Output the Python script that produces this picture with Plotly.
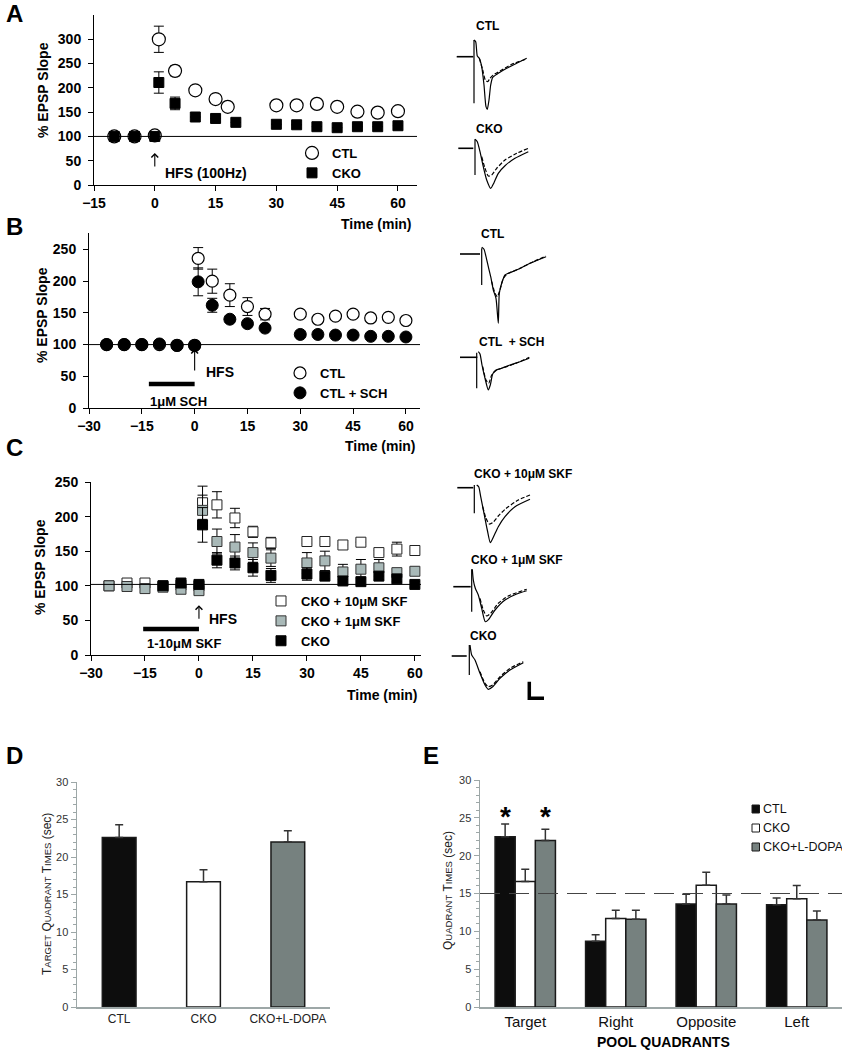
import plotly.graph_objects as go

W, H = 842, 1050
FONT = "Arial, Liberation Sans, sans-serif"


def fx(p):
    return p / W


def fy(p):
    return 1 - p / H


# ---------------- Panel A data ----------------
a_time_ctl = [-10, -5, 0, 1, 5, 10, 15, 18, 30, 35, 40, 45, 50, 55, 60]
a_ctl = [100, 100, 102, 300, 235, 195, 177, 161, 164, 164, 167, 161, 151, 149, 152]
a_ctl_err = [0, 0, 0, 27, 10, 0, 0, 0, 0, 0, 8, 0, 0, 0, 0]
a_time_cko = [-10, -5, 0, 1, 5, 10, 15, 20, 30, 35, 40, 45, 50, 55, 60]
a_cko = [100, 100, 100, 211, 168, 140, 137, 129, 125, 124, 120, 118, 120, 120, 122]
a_cko_err = [0, 0, 0, 22, 13, 0, 0, 0, 0, 0, 0, 0, 0, 0, 0]
a_xticks = [-15, 0, 15, 30, 45, 60]
a_yticks = [0, 50, 100, 150, 200, 250, 300]

# ---------------- Panel B data ----------------
b_time = [-25, -20, -15, -10, -5, 0, 1, 5, 10, 15, 20, 30, 35, 40, 45, 50, 55, 60]
b_ctl = [100, 100, 100, 100, 99, 99, 236, 200, 178, 160, 148, 148, 140, 145, 148, 142, 143, 138]
b_ctl_err = [0, 0, 0, 0, 0, 0, 17, 19, 18, 14, 9, 0, 0, 0, 0, 0, 0, 0]
b_sch = [100, 100, 100, 101, 98.5, 98.5, 199, 162, 140, 133, 126, 116, 116, 115, 115, 113, 113, 112]
b_sch_err = [0, 0, 0, 0, 0, 0, 22, 11, 5, 0, 0, 0, 0, 0, 0, 0, 0, 0]
b_xticks = [-30, -15, 0, 15, 30, 45, 60]
b_yticks = [0, 50, 100, 150, 200, 250]

# ---------------- Panel C data ----------------
c_time = [-25, -20, -15, -10, -5, 0, 1, 5, 10, 15, 20, 30, 35, 40, 45, 50, 55, 60]
c_skf10 = [100, 104, 104, 100, 101, 100, 220, 217, 198, 178, 162, 164, 164, 159, 163, 148, 153, 151]
c_skf10_err = [0, 0, 0, 0, 0, 0, 24, 19, 14, 8, 8, 3, 4, 0, 0, 3, 10, 7]
c_skf1 = [100, 99, 96, 98, 95, 93, 209, 164, 156, 148, 140, 133, 136, 120, 124, 126, 119, 121]
c_skf1_err = [0, 0, 0, 0, 0, 0, 22, 18, 18, 14, 12, 15, 14, 11, 14, 12, 5, 6]
c_time_cko = [-10, -5, 0, 1, 5, 10, 15, 20, 30, 35, 40, 45, 50, 55, 60]
c_cko = [100, 104, 102, 188, 137, 133, 126, 115, 117, 114, 107, 106, 114, 110, 102]
c_cko_err = [0, 0, 0, 25, 11, 10, 12, 10, 9, 4, 5, 5, 5, 4, 4]
c_xticks = [-30, -15, 0, 15, 30, 45, 60]
c_yticks = [0, 50, 100, 150, 200, 250]

# ---------------- Panel D data ----------------
d_groups = ["CTL", "CKO", "CKO+L-DOPA"]
d_values = [22.6, 16.7, 22.0]
d_err = [1.7, 1.6, 1.5]
d_colors = ["#0d0d0d", "#ffffff", "#76817f"]

# ---------------- Panel E data ----------------
e_quadrants = ["Target", "Right", "Opposite", "Left"]
e_ctl = [22.5, 8.7, 13.6, 13.5]
e_ctl_err = [1.7, 0.85, 1.3, 0.9]
e_cko = [16.6, 11.7, 16.1, 14.3]
e_cko_err = [1.6, 1.1, 1.7, 1.75]
e_ldopa = [22.0, 11.6, 13.6, 11.5]
e_ldopa_err = [1.5, 1.2, 1.2, 1.2]
e_chance = 15

# ---------------- Example EPSP traces (drawn in pixel space) ----------------
traces_right = {
    "A_CTL": dict(
        base=([456.7, 473.3], [56.7, 56.7]), art=([474, 474], [40, 103.3]),
        solid=([474, 475.7, 477.3, 479.3, 481.7, 484, 486, 487.3, 489, 490.7, 492.7, 498.3, 506.7, 516.7, 526.7],
               [40, 41.7, 56, 58.3, 66.7, 85, 106.7, 109.3, 100, 85, 77.3, 73.3, 68.3, 63.3, 58.3]),
        dash=([479.3, 482.7, 485.3, 487.7, 490, 493.3, 501.7, 511.7, 526.7],
              [58.3, 70, 80, 81.7, 78.3, 75, 70, 64.3, 59])),
    "A_CKO": dict(
        base=([458.3, 473.3], [148.3, 148.3]), art=([475, 475], [139.3, 175]),
        solid=([475, 477.3, 480, 483.3, 486.7, 490.7, 494, 498.3, 505, 515, 528.3],
               [139.3, 141.7, 151.7, 166.7, 180, 188.3, 182.7, 173.3, 165.7, 158.3, 151.7]),
        dash=([481.7, 485, 488.3, 491.7, 496.7, 505, 516.7, 528.3],
              [156.7, 168.3, 176, 175, 168.3, 160, 153.3, 148.3])),
    "B_CTL": dict(
        base=([460, 480], [254, 254]), art=([481.7, 481.7], [248.3, 285]),
        solid=([481.7, 484, 486, 488.3, 490.7, 493.3, 496, 498.3, 499.3, 501.7, 505, 508.3, 516.7, 530, 546],
               [247.3, 249.3, 256.7, 266.7, 276.7, 290, 298.3, 323.3, 293.3, 283.3, 275, 273.3, 270, 263.3, 256.7]),
        dash=([491.7, 495, 497.3, 500, 503.3, 507.3, 520, 533.3, 546],
              [281.7, 293.3, 296.7, 290, 278.3, 274, 268.3, 261.7, 256])),
    "B_SCH": dict(
        base=([460, 477.3], [357.3, 357.3]), art=([476.7, 476.7], [352.7, 388.3]),
        solid=([478.3, 480, 482, 485, 488.3, 490.3, 492.7, 496, 501.7, 510, 520, 529.3],
               [351.7, 354, 365, 378.3, 390, 385, 374, 370, 368.3, 365, 361.7, 358.3]),
        dash=([482.7, 486, 488.7, 491.7, 496.7, 506.7, 518.3, 529.3],
              [366.7, 380, 383.3, 375, 370, 366.7, 362.3, 357.3])),
    "C_10": dict(
        base=([457.3, 473.3], [487.7, 487.7]), art=([474.3, 474.3], [485, 513.3]),
        solid=([476.7, 478.7, 480.7, 484, 487.3, 490.3, 493.3, 498.3, 505, 515, 530],
               [485, 486.7, 496.7, 513.3, 530, 542.7, 537.3, 526.7, 516.7, 506.7, 499.3]),
        dash=([482.7, 486, 489.3, 492.7, 498.3, 505, 508.3, 518.3, 530],
              [506.7, 518.3, 524, 522.7, 516, 509.3, 506.7, 500, 495])),
    "C_1": dict(
        base=([453.3, 470.7], [586.7, 586.7]), art=([471.7, 471.7], [569.3, 611.7]),
        solid=([472.3, 473.3, 475.3, 478.3, 481.7, 485.3, 488.7, 495, 505, 516.7, 526.7],
               [569.3, 580, 588.3, 595, 608.3, 621.7, 619.3, 610, 600, 594, 590.7]),
        dash=([480, 483.3, 486.7, 490.7, 498.3, 508.3, 526.7],
              [598.3, 610, 616, 613.3, 603.3, 596, 589.3])),
    "C_CKO": dict(
        base=([451.7, 466.7], [656, 656]), art=([469.3, 469.3], [645, 675]),
        solid=([470, 471.7, 475, 480, 485, 488.3, 492.7, 500, 510, 523.3],
               [645, 655, 660, 673.3, 685, 689.3, 686.7, 678.3, 670, 662.7]),
        dash=([480, 485, 488.3, 492.7, 500, 510, 523.3],
              [671.7, 683.3, 686.7, 685, 676.7, 668.3, 661.7])),
}
scale_bar = ([529.3, 529.3, 544], [681.7, 698.3, 698.3])
trace_labels = [("CTL", 474, 26), ("CKO", 474, 129), ("CTL", 479, 234), ("CTL  + SCH", 477, 342),
                ("CKO + 10μM SKF", 472, 474), ("CKO + 1μM SKF", 469, 560), ("CKO", 468, 636)]

fig = go.Figure()

err_style = dict(type="data", color="black", thickness=1, width=5)

# Panel A
fig.add_trace(go.Scatter(x=a_time_ctl, y=a_ctl, mode="markers", name="CTL",
                         marker=dict(symbol="circle", size=13, color="white", line=dict(color="black", width=1.2)),
                         error_y=dict(array=a_ctl_err, **err_style), xaxis="x", yaxis="y", legend="legend"))
fig.add_trace(go.Scatter(x=a_time_cko, y=a_cko, mode="markers", name="CKO",
                         marker=dict(symbol="square", size=10, color="black", line=dict(color="black", width=1)),
                         error_y=dict(array=a_cko_err, **err_style), xaxis="x", yaxis="y", legend="legend"))
# Panel B
fig.add_trace(go.Scatter(x=b_time, y=b_ctl, mode="markers", name="CTL",
                         marker=dict(symbol="circle", size=12, color="white", line=dict(color="black", width=1.2)),
                         error_y=dict(array=b_ctl_err, **err_style), xaxis="x2", yaxis="y2", legend="legend2"))
fig.add_trace(go.Scatter(x=b_time, y=b_sch, mode="markers", name="CTL + SCH",
                         marker=dict(symbol="circle", size=12, color="black", line=dict(color="black", width=1)),
                         error_y=dict(array=b_sch_err, **err_style), xaxis="x2", yaxis="y2", legend="legend2"))
# Panel C
fig.add_trace(go.Scatter(x=c_time, y=c_skf10, mode="markers", name="CKO + 10μM SKF",
                         marker=dict(symbol="square", size=10, color="white", line=dict(color="#222", width=1)),
                         error_y=dict(array=c_skf10_err, **err_style), xaxis="x3", yaxis="y3", legend="legend3"))
fig.add_trace(go.Scatter(x=c_time, y=c_skf1, mode="markers", name="CKO + 1μM SKF",
                         marker=dict(symbol="square", size=10, color="#a9b9b8", line=dict(color="#333", width=1)),
                         error_y=dict(array=c_skf1_err, **err_style), xaxis="x3", yaxis="y3", legend="legend3"))
fig.add_trace(go.Scatter(x=c_time_cko, y=c_cko, mode="markers", name="CKO",
                         marker=dict(symbol="square", size=10, color="black", line=dict(color="black", width=1)),
                         error_y=dict(array=c_cko_err, **err_style), xaxis="x3", yaxis="y3", legend="legend3"))

# Panel D
fig.add_trace(go.Bar(x=d_groups, y=d_values, width=0.4, marker=dict(color=d_colors, line=dict(color="#1a1a1a", width=1.5)),
                     error_y=dict(type="data", array=d_err, arrayminus=[0, 0, 0], symmetric=False,
                                  color="#333", thickness=1.5, width=4),
                     xaxis="x4", yaxis="y4", showlegend=False))
# Panel E
for name, vals, errs, col in [("CTL", e_ctl, e_ctl_err, d_colors[0]), ("CKO", e_cko, e_cko_err, d_colors[1]),
                              ("CKO+L-DOPA", e_ldopa, e_ldopa_err, d_colors[2])]:
    fig.add_trace(go.Bar(x=e_quadrants, y=vals, name=name, marker=dict(color=col, line=dict(color="#1a1a1a", width=1.5)),
                         error_y=dict(type="data", array=errs, arrayminus=[0] * 4, symmetric=False,
                                      color="#333", thickness=1.5, width=4),
                         xaxis="x5", yaxis="y5", showlegend=False))

# Traces (right column)
for key, t in traces_right.items():
    for part, dash, wid in [("base", "solid", 1.6), ("art", "solid", 1.2), ("solid", "solid", 1.2), ("dash", "dash", 1.2)]:
        xs, ys = t[part]
        fig.add_trace(go.Scatter(x=xs, y=ys, mode="lines",
                                 line=dict(color="black", width=wid, dash="4px,2px" if dash == "dash" else "solid",
                                           shape="spline" if part in ("solid", "dash") else "linear", smoothing=0.6),
                                 xaxis="x6", yaxis="y6", showlegend=False, hoverinfo="skip"))
fig.add_trace(go.Scatter(x=scale_bar[0], y=scale_bar[1], mode="lines", line=dict(color="black", width=3.5),
                         xaxis="x6", yaxis="y6", showlegend=False, hoverinfo="skip"))

bold_tick = dict(family=FONT, size=14, color="black", weight="bold")
common_x = dict(showline=True, linecolor="black", linewidth=1, ticks="outside", ticklen=5, tickcolor="black",
                showgrid=False, zeroline=False, tickfont=bold_tick, fixedrange=True, automargin=False)
common_y = dict(showline=True, linecolor="black", linewidth=1, ticks="outside", ticklen=5, tickcolor="black",
                showgrid=False, zeroline=False, tickfont=bold_tick, fixedrange=True, ticklabelstandoff=4,
                automargin=False)

bar_axis_col = "#9da7a7"
bar_y = dict(showline=True, linecolor=bar_axis_col, linewidth=1.5, ticks="outside", ticklen=5, tickcolor=bar_axis_col,
             showgrid=False, zeroline=False, range=[0, 30], tickvals=[0, 5, 10, 15, 20, 25, 30],
             tickfont=dict(family=FONT, size=11, color="#333"), automargin=False,
             minor=dict(dtick=1, ticks="outside", ticklen=3, tickcolor=bar_axis_col), fixedrange=True)

fig.update_layout(
    template="none",
    width=W, height=H, margin=dict(l=0, r=0, t=0, b=0, autoexpand=False),
    paper_bgcolor="white", plot_bgcolor="rgba(0,0,0,0)",
    font=dict(family=FONT, color="black"),
    barmode="group", bargap=0.333, bargroupgap=0,
    xaxis=dict(domain=[fx(94), fx(417)], range=[-15, 64.7], tickvals=a_xticks, anchor="y", **common_x),
    yaxis=dict(domain=[fy(185), fy(15)], range=[0, 350], tickvals=a_yticks, anchor="x", **common_y),
    xaxis2=dict(domain=[fx(89), fx(420)], range=[-30, 64], tickvals=b_xticks, anchor="y2", **common_x),
    yaxis2=dict(domain=[fy(408), fy(233)], range=[0, 276], tickvals=b_yticks, anchor="x2", **common_y),
    xaxis3=dict(domain=[fx(91), fx(421)], range=[-30, 61.7], tickvals=c_xticks, anchor="y3", **common_x),
    yaxis3=dict(domain=[fy(655), fy(482)], range=[0, 250], tickvals=c_yticks, anchor="x3", **common_y),
    xaxis4=dict(domain=[fx(77), fx(330)], range=[-0.5, 2.5], anchor="y4", showline=True, linecolor=bar_axis_col,
                linewidth=1.5, ticks="", showgrid=False, tickfont=dict(family=FONT, size=12, color="#222"),
                fixedrange=True, automargin=False),
    yaxis4=dict(domain=[fy(1007), fy(782)], anchor="x4", **bar_y),
    xaxis5=dict(domain=[fx(480), fx(842)], range=[-0.5, 3.5], anchor="y5", showline=True, linecolor=bar_axis_col,
                linewidth=1.5, ticks="", showgrid=False, tickfont=dict(family=FONT, size=15, color="#111"),
                fixedrange=True, automargin=False),
    yaxis5=dict(domain=[fy(1007), fy(780)], anchor="x5", **bar_y),
    xaxis6=dict(domain=[fx(420), 1], range=[420, 842], visible=False, fixedrange=True, anchor="y6", automargin=False),
    yaxis6=dict(domain=[fy(740), 1], range=[740, 0], visible=False, fixedrange=True, anchor="x6", automargin=False),
    legend=dict(x=fx(292), y=fy(138), xanchor="left", yanchor="top", bgcolor="rgba(0,0,0,0)",
                font=dict(family=FONT, size=13, weight="bold"), itemsizing="trace"),
    legend2=dict(x=fx(280), y=fy(358), xanchor="left", yanchor="top", bgcolor="rgba(0,0,0,0)",
                 font=dict(family=FONT, size=13, weight="bold"), itemsizing="trace"),
    legend3=dict(x=fx(261), y=fy(586), xanchor="left", yanchor="top", bgcolor="rgba(0,0,0,0)",
                 font=dict(family=FONT, size=13, weight="bold"), itemsizing="trace"),
)

shapes = []
# reference lines at 100%
shapes.append(dict(type="line", xref="x domain", yref="y", x0=0, x1=1, y0=100, y1=100, line=dict(color="black", width=1)))
shapes.append(dict(type="line", xref="x2 domain", yref="y2", x0=0, x1=1, y0=100, y1=100, line=dict(color="black", width=1)))
shapes.append(dict(type="line", xref="x3 domain", yref="y3", x0=0, x1=1, y0=102, y1=102, line=dict(color="black", width=1)))
# drug application bars
shapes.append(dict(type="line", xref="x2", yref="y2", x0=-13, x1=0, y0=38, y1=38, line=dict(color="black", width=4.5)))
shapes.append(dict(type="line", xref="x3", yref="y3", x0=-15.5, x1=0, y0=37.6, y1=37.6, line=dict(color="black", width=4.5)))
# chance line in E
shapes.append(dict(type="line", xref="x5 domain", yref="y5", x0=0, x1=1, y0=e_chance, y1=e_chance, layer="above",
                   line=dict(color="#444", width=1.2, dash="20px,9px")))
# manual legend for E
e_leg = [("CTL", d_colors[0], 809), ("CKO", d_colors[1], 828), ("CKO+L-DOPA", d_colors[2], 847)]
for lab, col, yy in e_leg:
    shapes.append(dict(type="rect", xref="paper", yref="paper", x0=fx(752), x1=fx(759.5), y0=fy(yy + 4), y1=fy(yy - 4),
                       fillcolor=col, line=dict(color="#1a1a1a", width=1)))
fig.update_layout(shapes=shapes)

ann = []


def text(t, x, y, size=13, bold=True, xanchor="left", yanchor="middle", xref="paper", yref="paper", angle=0, color="black"):
    ann.append(dict(text=t, x=x, y=y, xref=xref, yref=yref, showarrow=False, xanchor=xanchor, yanchor=yanchor,
                    textangle=angle, font=dict(family=FONT, size=size, color=color, weight="bold" if bold else "normal")))


# panel letters
text("A", fx(4), fy(13), size=24)
text("B", fx(4), fy(226), size=24)
text("C", fx(4), fy(447), size=24)
text("D", fx(4), fy(755), size=24)
text("E", fx(421), fy(755), size=24)
# y titles
text("% EPSP Slope", fx(43), fy(90), size=14, angle=-90, xanchor="center")
text("% EPSP Slope", fx(42), fy(315), size=14, angle=-90, xanchor="center")
text("% EPSP Slope", fx(40), fy(567), size=14, angle=-90, xanchor="center")
# x titles
text("Time (min)", fx(414), fy(224), size=14, xanchor="right")
text("Time (min)", fx(418), fy(446), size=14, xanchor="right")
text("Time (min)", fx(420), fy(695), size=14, xanchor="right")
# annotations inside panels
text("HFS (100Hz)", 2.0, 24.7, size=14, xref="x", yref="y")
text("HFS", 2.6, 56.8, size=14, xref="x2", yref="y2")
text("1μM SCH", -13.2, 9.5, size=13, xref="x2", yref="y2")
text("HFS", 2.2, 52, size=14, xref="x3", yref="y3")
text("1-10μM SKF", -15, 16, size=13, xref="x3", yref="y3")
# trace labels
for lab, xx, yy in trace_labels:
    text(lab, fx(xx), fy(yy), size=12)
# D / E titles
sm = "font-size:9.5px"
text(f"T<span style='{sm}'>ARGET</span> Q<span style='{sm}'>UADRANT</span> T<span style='{sm}'>IMES</span> (sec)",
     fx(47), fy(894), size=12, bold=False, angle=-90, xanchor="center", color="#222")
text(f"Q<span style='{sm}'>UADRANT</span> T<span style='{sm}'>IMES</span> (sec)",
     fx(448), fy(891), size=12, bold=False, angle=-90, xanchor="center", color="#222")
text("POOL QUADRANTS", fx(663), fy(1042), size=14, xanchor="center")
for lab, col, yy in e_leg:
    text(lab, fx(761), fy(yy), size=12.5, bold=False, color="#111")
# asterisks
text("*", -0.222, 25.2, size=28, xref="x5", yref="y5", xanchor="center")
text("*", 0.222, 25.2, size=28, xref="x5", yref="y5", xanchor="center")

# HFS arrows
for xr, yr, yh, ay in [("x", "y", 66, 15), ("x2", "y2", 93, 23), ("x3", "y3", 72, 15)]:
    ann.append(dict(x=0, y=yh, xref=xr, yref=yr, ax=0, ay=ay, axref="pixel", ayref="pixel", showarrow=True,
                    arrowhead=4, arrowsize=1.2, arrowwidth=1.1, arrowcolor="black", text=""))

fig.update_layout(annotations=ann)
fig.write_html("out.html", config={"displayModeBar": False, "staticPlot": True},
               post_script="document.body.style.margin='0';document.body.style.overflow='hidden';")
